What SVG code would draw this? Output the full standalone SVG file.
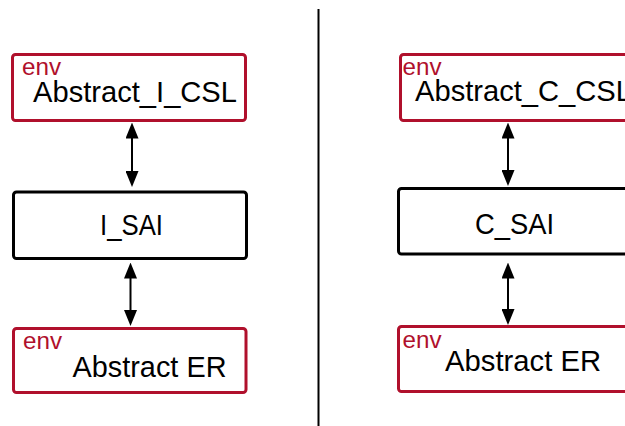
<svg xmlns="http://www.w3.org/2000/svg" width="625" height="426" viewBox="0 0 625 426">
  <style>
    .env-box { fill: #ffffff; stroke: #b0102c; stroke-width: 3; }
    .sai-box { fill: #ffffff; stroke: #000000; stroke-width: 3; }
    .tag { font-family: "Liberation Sans", Arial, sans-serif; font-size: 24px; fill: #b0102c; }
    .label { font-family: "Liberation Sans", Arial, sans-serif; font-size: 29px; fill: #000000; }
    .link { stroke: #000000; stroke-width: 2; fill: none; marker-start: url(#head); marker-end: url(#head); }
    .divider { stroke: #000000; stroke-width: 2; }
  </style>
  <defs>
    <marker id="head" viewBox="0 0 16 13" refX="12" refY="6.5" markerWidth="16" markerHeight="13" markerUnits="userSpaceOnUse" orient="auto-start-reverse">
      <path d="M0,0 L16,6.5 L0,13 Z" fill="#000000"/>
    </marker>
  </defs>
  <rect width="625" height="426" fill="#ffffff"/>

  <!-- separator between the two columns -->
  <line class="divider" x1="318.5" y1="9" x2="318.5" y2="426"/>

  <!-- left column -->
  <g id="abstract-i-csl">
    <rect class="env-box" x="12.5" y="54.5" width="233" height="66" rx="3"/>
    <text class="tag" x="22" y="75" textLength="39" lengthAdjust="spacingAndGlyphs">env</text>
    <text class="label" x="33" y="102" textLength="204" lengthAdjust="spacingAndGlyphs">Abstract_I_CSL</text>
  </g>
  <g id="i-sai">
    <rect class="sai-box" x="13.5" y="192" width="233" height="66.5" rx="3"/>
    <text class="label" x="100" y="234.5" textLength="63" lengthAdjust="spacingAndGlyphs">I_SAI</text>
  </g>
  <g id="abstract-er-left">
    <rect class="env-box" x="13.5" y="328.5" width="232.5" height="64" rx="3"/>
    <text class="tag" x="23" y="348.5" textLength="39" lengthAdjust="spacingAndGlyphs">env</text>
    <text class="label" x="72.5" y="377" textLength="154" lengthAdjust="spacingAndGlyphs">Abstract ER</text>
  </g>

  <!-- right column -->
  <g id="abstract-c-csl">
    <rect class="env-box" x="400.5" y="54.5" width="240" height="66" rx="3"/>
    <text class="tag" x="402.5" y="74.5" textLength="39" lengthAdjust="spacingAndGlyphs">env</text>
    <text class="label" x="415" y="101" textLength="217" lengthAdjust="spacingAndGlyphs">Abstract_C_CSL</text>
  </g>
  <g id="c-sai">
    <rect class="sai-box" x="398.5" y="188.5" width="240" height="65.5" rx="3"/>
    <text class="label" x="475" y="233.5" textLength="79" lengthAdjust="spacingAndGlyphs">C_SAI</text>
  </g>
  <g id="abstract-er-right">
    <rect class="env-box" x="398.5" y="326.5" width="240" height="65" rx="3"/>
    <text class="tag" x="402.5" y="347.5" textLength="39" lengthAdjust="spacingAndGlyphs">env</text>
    <text class="label" x="445" y="371" textLength="156" lengthAdjust="spacingAndGlyphs">Abstract ER</text>
  </g>

  <!-- bidirectional links -->
  <g id="connectors">
    <line class="link" x1="132" y1="126.5" x2="132" y2="183"/>
    <line class="link" x1="130.5" y1="266.5" x2="130.5" y2="322"/>
    <line class="link" x1="508" y1="126.5" x2="508" y2="182"/>
    <line class="link" x1="508" y1="266.5" x2="508" y2="321"/>
  </g>
</svg>
